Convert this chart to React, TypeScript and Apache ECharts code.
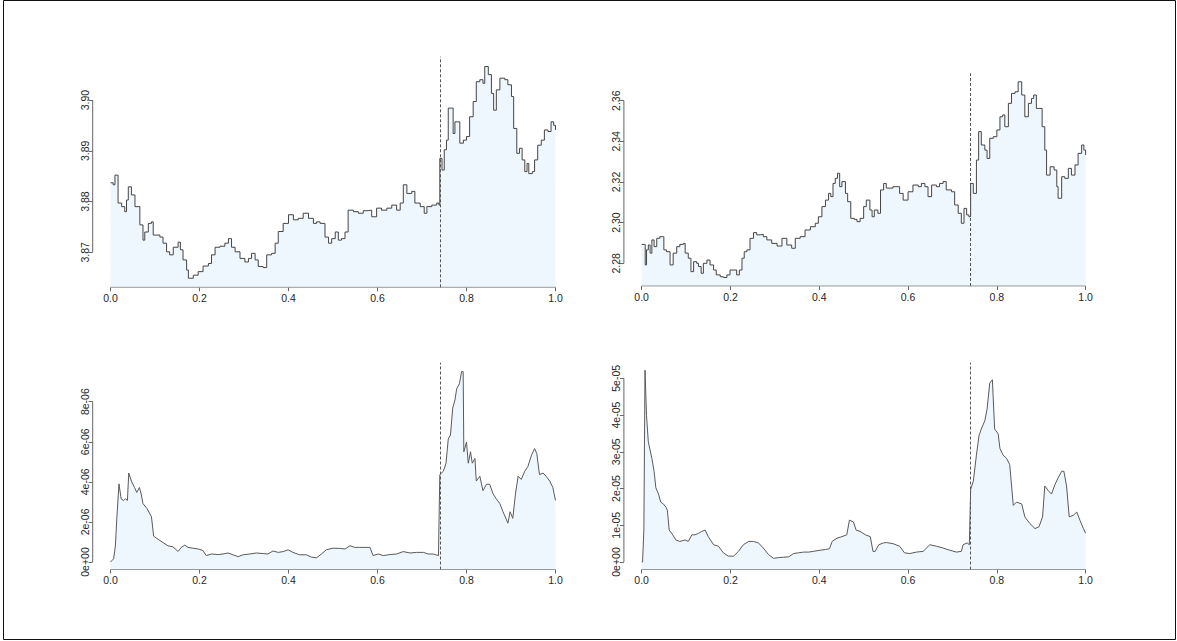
import React, { useEffect, useRef } from "react";
import * as echarts from "echarts";

// ---------- data ----------
const cutX = 0.739;

const tlX = [0, 0.006, 0.01, 0.015, 0.017, 0.025, 0.032, 0.036, 0.04, 0.047, 0.055, 0.066, 0.073, 0.077, 0.085, 0.092, 0.096, 0.111, 0.118, 0.126, 0.133, 0.141, 0.152, 0.157, 0.163, 0.171, 0.175, 0.186, 0.197, 0.208, 0.22, 0.227, 0.235, 0.246, 0.257, 0.265, 0.272, 0.28, 0.291, 0.302, 0.31, 0.317, 0.325, 0.332, 0.343, 0.351, 0.362, 0.37, 0.377, 0.388, 0.4, 0.411, 0.422, 0.433, 0.445, 0.456, 0.463, 0.471, 0.482, 0.49, 0.497, 0.505, 0.512, 0.519, 0.527, 0.534, 0.546, 0.557, 0.568, 0.579, 0.587, 0.598, 0.609, 0.621, 0.632, 0.643, 0.651, 0.658, 0.666, 0.677, 0.684, 0.696, 0.705, 0.711, 0.722, 0.733, 0.738, 0.74, 0.745, 0.75, 0.755, 0.759, 0.766, 0.77, 0.774, 0.78, 0.785, 0.793, 0.8, 0.807, 0.815, 0.822, 0.83, 0.837, 0.841, 0.849, 0.856, 0.861, 0.867, 0.875, 0.886, 0.893, 0.901, 0.906, 0.913, 0.919, 0.925, 0.931, 0.936, 0.94, 0.948, 0.953, 0.96, 0.968, 0.975, 0.983, 0.99, 0.996, 1.0];
const tlY = [3.8837, 3.8833, 3.8852, 3.8852, 3.8797, 3.879, 3.878, 3.8803, 3.8829, 3.8813, 3.879, 3.8754, 3.8724, 3.874, 3.8757, 3.876, 3.8734, 3.873, 3.8718, 3.8701, 3.8695, 3.871, 3.872, 3.8705, 3.8685, 3.8665, 3.8649, 3.8655, 3.8662, 3.8673, 3.8678, 3.8695, 3.871, 3.8712, 3.8718, 3.8727, 3.871, 3.8701, 3.8688, 3.8681, 3.8688, 3.8698, 3.8685, 3.8672, 3.867, 3.8695, 3.8698, 3.8718, 3.8741, 3.8757, 3.8774, 3.8764, 3.8767, 3.8777, 3.8767, 3.8757, 3.876, 3.8757, 3.873, 3.8718, 3.8727, 3.874, 3.8724, 3.8727, 3.874, 3.8783, 3.878, 3.8777, 3.8782, 3.8783, 3.877, 3.8787, 3.8783, 3.8787, 3.8793, 3.8783, 3.8797, 3.8833, 3.8816, 3.882, 3.8797, 3.879, 3.8777, 3.879, 3.8793, 3.8797, 3.8793, 3.8885, 3.8862, 3.8902, 3.8921, 3.8984, 3.8984, 3.8934, 3.8957, 3.8957, 3.8915, 3.8921, 3.8928, 3.8967, 3.8997, 3.9036, 3.904, 3.9033, 3.9066, 3.905, 3.9013, 3.898, 3.902, 3.9043, 3.904, 3.903, 3.9007, 3.8944, 3.8895, 3.8905, 3.8882, 3.8859, 3.8875, 3.8855, 3.8859, 3.8882, 3.8911, 3.8921, 3.8941, 3.8938, 3.8957, 3.895, 3.8941];

const trX = [0, 0.006, 0.008, 0.011, 0.015, 0.019, 0.023, 0.028, 0.034, 0.041, 0.047, 0.05, 0.056, 0.064, 0.071, 0.079, 0.086, 0.094, 0.098, 0.105, 0.111, 0.117, 0.124, 0.128, 0.134, 0.139, 0.147, 0.154, 0.162, 0.168, 0.177, 0.184, 0.192, 0.199, 0.208, 0.214, 0.22, 0.226, 0.231, 0.237, 0.244, 0.252, 0.259, 0.267, 0.274, 0.282, 0.293, 0.305, 0.316, 0.327, 0.338, 0.346, 0.357, 0.368, 0.38, 0.391, 0.398, 0.406, 0.414, 0.421, 0.426, 0.431, 0.436, 0.441, 0.446, 0.451, 0.459, 0.464, 0.471, 0.479, 0.485, 0.492, 0.5, 0.506, 0.514, 0.519, 0.524, 0.532, 0.538, 0.545, 0.551, 0.566, 0.581, 0.589, 0.6, 0.611, 0.623, 0.63, 0.638, 0.645, 0.653, 0.664, 0.671, 0.679, 0.686, 0.698, 0.705, 0.713, 0.72, 0.726, 0.732, 0.737, 0.741, 0.747, 0.754, 0.759, 0.765, 0.773, 0.778, 0.784, 0.792, 0.8, 0.807, 0.813, 0.818, 0.826, 0.833, 0.841, 0.848, 0.856, 0.863, 0.871, 0.878, 0.883, 0.889, 0.897, 0.902, 0.908, 0.912, 0.92, 0.929, 0.935, 0.938, 0.946, 0.953, 0.961, 0.968, 0.976, 0.983, 0.991, 0.996, 1.0];
const trY = [2.2893, 2.2893, 2.2792, 2.2866, 2.289, 2.285, 2.2915, 2.2882, 2.2923, 2.2931, 2.2931, 2.2866, 2.2857, 2.2792, 2.285, 2.2882, 2.2893, 2.2898, 2.285, 2.2825, 2.2759, 2.2808, 2.28, 2.2784, 2.2751, 2.28, 2.2816, 2.2792, 2.2767, 2.2743, 2.2734, 2.273, 2.2743, 2.2767, 2.2767, 2.2743, 2.2767, 2.2825, 2.2857, 2.2866, 2.2923, 2.2951, 2.294, 2.2943, 2.2931, 2.2915, 2.2898, 2.2885, 2.2923, 2.289, 2.2874, 2.2923, 2.2931, 2.2964, 2.298, 2.2997, 2.3029, 2.3079, 2.3111, 2.3144, 2.3128, 2.3193, 2.3218, 2.3243, 2.3177, 2.3202, 2.3144, 2.3103, 2.3021, 2.3016, 2.3005, 2.3021, 2.3079, 2.3111, 2.3062, 2.3029, 2.3062, 2.3046, 2.3161, 2.3193, 2.317, 2.3177, 2.3144, 2.3111, 2.3152, 2.3185, 2.3177, 2.3193, 2.3177, 2.3128, 2.3185, 2.3177, 2.3193, 2.3202, 2.3161, 2.3152, 2.3087, 2.3046, 2.2997, 2.307, 2.3038, 2.3029, 2.3193, 2.3144, 2.3308, 2.3448, 2.3382, 2.3357, 2.3316, 2.3415, 2.3423, 2.3456, 2.3521, 2.353, 2.3472, 2.3587, 2.3636, 2.3644, 2.3693, 2.3628, 2.3521, 2.3587, 2.3611, 2.3628, 2.3562, 2.3562, 2.3472, 2.3357, 2.3234, 2.3275, 2.3259, 2.3177, 2.312, 2.3226, 2.3218, 2.3267, 2.3234, 2.3284, 2.3341, 2.3382, 2.3357, 2.3333];

// bottom-left values in units of 1e-06
const blX = [0, 0.007, 0.011, 0.014, 0.019, 0.024, 0.029, 0.034, 0.038, 0.041, 0.047, 0.054, 0.059, 0.065, 0.069, 0.073, 0.082, 0.092, 0.097, 0.107, 0.118, 0.129, 0.14, 0.152, 0.159, 0.167, 0.174, 0.185, 0.197, 0.208, 0.215, 0.227, 0.242, 0.253, 0.264, 0.275, 0.287, 0.298, 0.313, 0.328, 0.343, 0.354, 0.365, 0.377, 0.388, 0.399, 0.41, 0.425, 0.44, 0.452, 0.463, 0.474, 0.485, 0.5, 0.515, 0.527, 0.538, 0.549, 0.56, 0.572, 0.583, 0.59, 0.602, 0.613, 0.628, 0.643, 0.658, 0.673, 0.688, 0.703, 0.714, 0.725, 0.737, 0.74, 0.748, 0.754, 0.759, 0.764, 0.769, 0.774, 0.778, 0.784, 0.789, 0.7925, 0.794, 0.8, 0.804, 0.809, 0.813, 0.819, 0.822, 0.83, 0.837, 0.845, 0.852, 0.86, 0.867, 0.875, 0.882, 0.89, 0.893, 0.898, 0.904, 0.91, 0.916, 0.923, 0.931, 0.938, 0.946, 0.953, 0.958, 0.964, 0.972, 0.979, 0.987, 0.994, 1.0];
const blY = [0, 0.16, 0.8, 2.1, 3.9, 3.15, 3.07, 3.15, 3.07, 4.44, 4.04, 3.72, 3.47, 3.72, 3.39, 2.91, 2.67, 2.26, 1.29, 1.13, 0.97, 0.81, 0.76, 0.53, 0.73, 0.84, 0.73, 0.69, 0.65, 0.57, 0.32, 0.4, 0.37, 0.4, 0.45, 0.36, 0.27, 0.36, 0.4, 0.45, 0.42, 0.4, 0.55, 0.48, 0.52, 0.61, 0.48, 0.36, 0.36, 0.24, 0.21, 0.4, 0.61, 0.69, 0.68, 0.65, 0.81, 0.73, 0.73, 0.73, 0.73, 0.32, 0.4, 0.32, 0.37, 0.4, 0.52, 0.45, 0.48, 0.48, 0.4, 0.4, 0.32, 4.36, 4.53, 4.93, 6.14, 6.34, 7.68, 8.08, 8.65, 8.89, 9.5, 9.5, 5.5, 5.98, 4.93, 5.5, 4.93, 5.17, 4.04, 4.28, 3.56, 3.88, 3.88, 3.39, 3.15, 2.91, 2.51, 2.1, 1.94, 2.51, 2.18, 3.39, 4.28, 4.12, 4.53, 4.77, 5.33, 5.66, 5.41, 4.36, 4.44, 4.28, 4.04, 3.72, 3.07];

// bottom-right values in units of 1e-05
const brX = [0, 0.002, 0.005, 0.0075, 0.011, 0.015, 0.023, 0.028, 0.032, 0.038, 0.043, 0.049, 0.055, 0.058, 0.062, 0.07, 0.077, 0.086, 0.098, 0.105, 0.113, 0.12, 0.128, 0.135, 0.143, 0.15, 0.162, 0.173, 0.184, 0.195, 0.207, 0.218, 0.229, 0.241, 0.252, 0.263, 0.274, 0.286, 0.297, 0.308, 0.32, 0.331, 0.342, 0.353, 0.365, 0.376, 0.387, 0.402, 0.414, 0.423, 0.429, 0.44, 0.451, 0.462, 0.468, 0.477, 0.483, 0.492, 0.504, 0.515, 0.521, 0.526, 0.534, 0.545, 0.551, 0.566, 0.581, 0.592, 0.604, 0.619, 0.634, 0.649, 0.664, 0.679, 0.694, 0.709, 0.72, 0.724, 0.733, 0.738, 0.741, 0.747, 0.754, 0.76, 0.765, 0.773, 0.778, 0.784, 0.79, 0.795, 0.803, 0.807, 0.814, 0.822, 0.829, 0.837, 0.844, 0.856, 0.863, 0.874, 0.886, 0.895, 0.903, 0.908, 0.916, 0.923, 0.931, 0.938, 0.946, 0.951, 0.957, 0.963, 0.972, 0.98, 0.987, 0.995, 1.0];
const brY = [0, 0, 0.87, 5.22, 3.98, 3.27, 2.82, 2.47, 2.02, 1.85, 1.63, 1.58, 1.49, 1.4, 0.87, 0.74, 0.6, 0.56, 0.6, 0.56, 0.74, 0.74, 0.78, 0.83, 0.87, 0.69, 0.47, 0.43, 0.25, 0.16, 0.16, 0.29, 0.47, 0.56, 0.56, 0.52, 0.38, 0.2, 0.1, 0.12, 0.13, 0.14, 0.23, 0.25, 0.27, 0.27, 0.29, 0.32, 0.34, 0.36, 0.56, 0.65, 0.69, 0.74, 1.14, 1.09, 0.87, 0.83, 0.74, 0.69, 0.29, 0.29, 0.47, 0.52, 0.53, 0.5, 0.43, 0.25, 0.23, 0.27, 0.29, 0.47, 0.43, 0.38, 0.32, 0.27, 0.29, 0.47, 0.52, 0.47, 1.98, 2.2, 2.91, 3.45, 3.62, 3.85, 4.16, 4.87, 4.96, 3.62, 3.49, 3.09, 2.91, 2.82, 2.65, 1.54, 1.63, 1.58, 1.23, 1.05, 0.91, 0.96, 1.23, 2.07, 1.94, 1.85, 2.11, 2.29, 2.47, 2.47, 2.07, 1.23, 1.27, 1.36, 1.14, 0.91, 0.78];

const xTicks = [0, 0.2, 0.4, 0.6, 0.8, 1.0];
const tlTicks = [3.87, 3.88, 3.89, 3.9];
const trTicks = [2.28, 2.3, 2.32, 2.34, 2.36];
const blTicks = [0, 2, 4, 6, 8];
const blTickLabels = ["0e+00", "2e-06", "4e-06", "6e-06", "8e-06"];
const brTicks = [0, 1, 2, 3, 4, 5];
const brTickLabels = ["0e+00", "1e-05", "2e-05", "3e-05", "4e-05", "5e-05"];

// ---------- layout ----------
const FONT = "'Liberation Sans', Arial, Helvetica, sans-serif";
const FS = 10.5;
const panels = [
  { grid: { left: 92.7, top: 56.7, width: 480.6, height: 230.6 }, xs: tlX, ys: tlY, ymin: 3.86311, ymax: 3.90853, ticks: tlTicks, labels: tlTicks.map((t) => t.toFixed(2)), step: true, color: "#454545" },
  { grid: { left: 623.9, top: 73.3, width: 479.5, height: 212.7 }, xs: trX, ys: trY, ymin: 2.26883, ymax: 2.37348, ticks: trTicks, labels: trTicks.map((t) => t.toFixed(2)), step: true, color: "#454545" },
  { grid: { left: 92.7, top: 362.7, width: 480.6, height: 206.8 }, xs: blX, ys: blY, ymin: -0.374, ymax: 9.945, ticks: blTicks, labels: blTickLabels, step: false, color: "#5a5a5a" },
  { grid: { left: 623.9, top: 362.7, width: 479.5, height: 206.8 }, xs: brX, ys: brY, ymin: -0.204, ymax: 5.425, ticks: brTicks, labels: brTickLabels, step: false, color: "#5a5a5a" },
];

function labelFor(ticks: number[], labels: string[], v: number) {
  let best = 0;
  for (let i = 1; i < ticks.length; i++) {
    if (Math.abs(ticks[i] - v) < Math.abs(ticks[best] - v)) best = i;
  }
  return labels[best];
}

export default function App() {
  const ref = useRef<HTMLDivElement>(null);
  useEffect(() => {
    if (!ref.current) return;
    const chart = echarts.init(ref.current, undefined, { renderer: "svg" });
    const grid: any[] = [];
    const xAxis: any[] = [];
    const yAxis: any[] = [];
    const series: any[] = [];
    panels.forEach((p, i) => {
      grid.push({ ...p.grid, containLabel: false });
      xAxis.push({
        type: "value",
        gridIndex: i,
        min: -0.04,
        max: 1.04,
        axisLine: { show: false, onZero: false },
        splitLine: { show: false },
        axisTick: { show: true, length: 4, customValues: xTicks, lineStyle: { color: "#666", width: 1 } },
        axisLabel: {
          customValues: xTicks,
          formatter: (v: number) => v.toFixed(1),
          fontSize: FS,
          fontFamily: FONT,
          color: "#262626",
          margin: 5,
        },
      });
      yAxis.push({
        type: "value",
        gridIndex: i,
        min: p.ymin,
        max: p.ymax,
        axisLine: { show: false, onZero: false },
        splitLine: { show: false },
        axisTick: { show: true, length: 4, customValues: p.ticks, lineStyle: { color: "#666", width: 1 } },
        axisLabel: {
          customValues: p.ticks,
          rotate: 90,
          align: "center",
          verticalAlign: "bottom",
          formatter: (v: number) => labelFor(p.ticks, p.labels, v),
          fontSize: FS,
          fontFamily: FONT,
          color: "#262626",
          margin: 2,
        },
      });
      series.push({
        type: "line",
        xAxisIndex: i,
        yAxisIndex: i,
        data: p.xs.map((x, k) => [x, p.ys[k]]),
        step: p.step ? "end" : false,
        showSymbol: false,
        symbol: "none",
        silent: true,
        lineStyle: { color: p.color, width: 1 },
        areaStyle: { color: "#EEF6FE", opacity: 1, origin: "start" },
        markLine: {
          silent: true,
          symbol: ["none", "none"],
          label: { show: false },
          lineStyle: { color: "#555", width: 1, type: [3, 2] },
          data: [{ xAxis: cutX }],
        },
        z: 2,
      });
      // R-style axis lines spanning first to last tick
      series.push({
        type: "line",
        xAxisIndex: i,
        yAxisIndex: i,
        data: [[-0.04, p.ticks[0]], [-0.04, p.ticks[p.ticks.length - 1]]],
        clip: false,
        showSymbol: false,
        symbol: "none",
        silent: true,
        lineStyle: { color: "#666", width: 1 },
        z: 3,
      });
      series.push({
        type: "line",
        xAxisIndex: i,
        yAxisIndex: i,
        data: [[xTicks[0], p.ymin], [xTicks[xTicks.length - 1], p.ymin]],
        clip: false,
        showSymbol: false,
        symbol: "none",
        silent: true,
        lineStyle: { color: "#999", width: 1 },
        z: 3,
      });
    });
    chart.setOption({
      animation: false,
      backgroundColor: "#fff",
      grid,
      xAxis,
      yAxis,
      series,
      graphic: [
        {
          type: "rect",
          shape: { x: 3.5, y: 0.5, width: 1172, height: 639 },
          style: { fill: "none", stroke: "#111", lineWidth: 1 },
          silent: true,
        },
      ],
    });
    return () => chart.dispose();
  }, []);
  return (
    <div
      ref={ref}
      style={{ position: "absolute", left: 0, top: 0, width: 1177, height: 641, background: "#fff" }}
    />
  );
}
